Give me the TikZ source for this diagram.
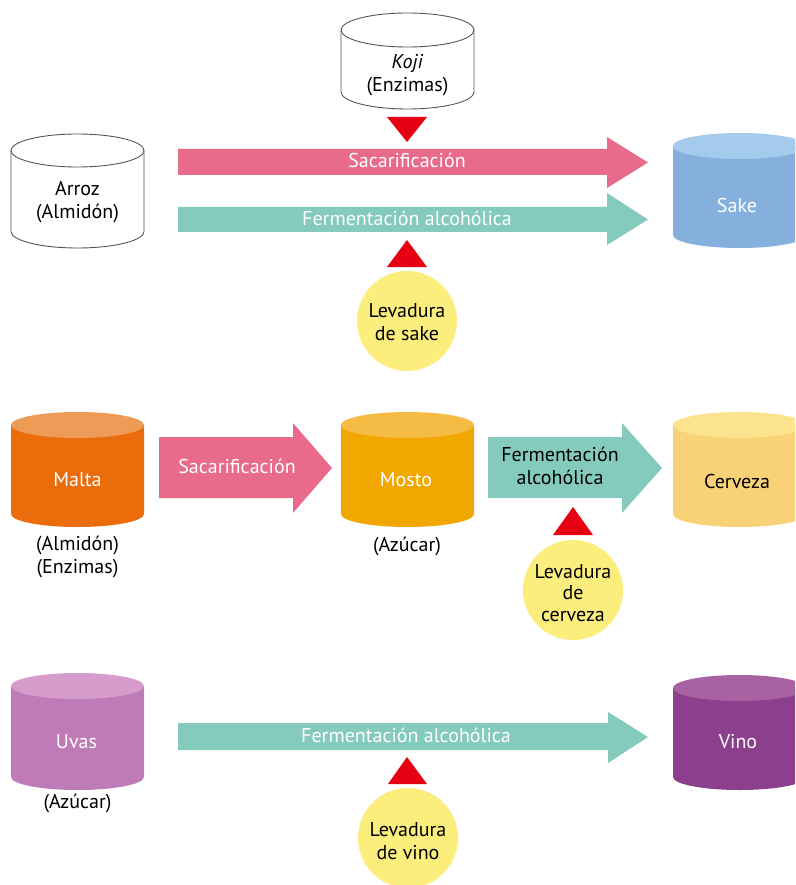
\documentclass[tikz,border=0pt]{standalone}
\usepackage{fontspec}
\setmainfont{PT Sans}
\definecolor{pinkA}{HTML}{E96B8B}
\definecolor{tealA}{HTML}{85CBBD}
\definecolor{redA}{HTML}{E60012}
\definecolor{yelA}{HTML}{FCEE7C}
\definecolor{sakeT}{HTML}{A4CAEC}
\definecolor{sakeB}{HTML}{85B0DD}
\definecolor{maltT}{HTML}{EF9B58}
\definecolor{maltB}{HTML}{EB6C0B}
\definecolor{mostT}{HTML}{F5BC45}
\definecolor{mostB}{HTML}{F2A700}
\definecolor{cervT}{HTML}{FCE48E}
\definecolor{cervB}{HTML}{F9D278}
\definecolor{uvaT}{HTML}{D69CCB}
\definecolor{uvaB}{HTML}{BE7BB7}
\definecolor{vinoT}{HTML}{A862A2}
\definecolor{vinoB}{HTML}{8C3F8D}
\definecolor{lineG}{HTML}{555555}
% #1 cx, #2 ytop, #3 ybot, #4 ry, #5 top colour, #6 body colour
\newcommand\colcyl[6]{%
  \fill[#6] ({#1-66.5},{#2+#4}) -- ({#1-66.5},{#3-#4})
    arc[start angle=180,end angle=360,x radius=66.5pt,y radius=#4pt]
    -- ({#1+66.5},{#2+#4}) -- cycle;
  \fill[#5] (#1,{#2+#4}) ellipse[x radius=66.5pt,y radius=#4pt];
}
\newcommand\whcyl[4]{%
  \draw[lineG,line width=0.9pt,fill=white] ({#1-66.5},{#2+#4}) -- ({#1-66.5},{#3-#4})
    arc[start angle=180,end angle=360,x radius=66.5pt,y radius=#4pt]
    -- ({#1+66.5},{#2+#4});
  \draw[lineG,line width=0.9pt,fill=white] (#1,{#2+#4}) ellipse[x radius=66.5pt,y radius=#4pt];
}
\tikzset{
  lbl/.style={align=center,inner sep=0pt,font=\fontsize{20}{23.5}\selectfont},
  wlbl/.style={lbl,text=white},
  blbl/.style={lbl,text=black},
  yeast/.style={circle,fill=yelA,minimum size=100pt,inner sep=0pt},
  tri/.style={fill=redA},
}
\begin{document}
\begin{tikzpicture}[x=1pt,y=-1pt]
\useasboundingbox (0,0) rectangle (795,885);
\clip (0,0) rectangle (795,885);
\fill[white] (0,0) rectangle (795,885);

% ---------------- Row 1: Sake ----------------
\whcyl{77.5}{134}{248}{16.5}
\node[blbl] (arroz) at (77.5,202) {Arroz\\(Almidón)};
\whcyl{407.5}{13}{109}{17}
\node[blbl] (koji) at (407.5,75) {\textit{Koji}\\(Enzimas)};
\fill[tri] (387,117) -- (427,117) -- (407,142) -- cycle;
\fill[pinkA] (178,149) -- (607,149) -- (607,137) -- (648,162.5) -- (607,188) -- (607,175) -- (178,175) -- cycle;
\node[wlbl] (sac1) at (407,160) {Sacarificación};
\fill[tealA] (178,207) -- (607,207) -- (607,193) -- (648,219.5) -- (607,245) -- (607,232) -- (178,232) -- cycle;
\node[wlbl] (fer1) at (407,218) {Fermentación alcohólica};
\fill[tri] (407,240) -- (427,267) -- (387,267) -- cycle;
\node[yeast] (lev1) at (407,321) {};
\node[blbl] (lev1t) at (407,322) {Levadura\\de sake};
\colcyl{739.5}{133}{248}{13}{sakeT}{sakeB}
\node[wlbl] (sake) at (737,206) {Sake};

% ---------------- Row 2: Cerveza ----------------
\colcyl{77.5}{412}{527}{13}{maltT}{maltB}
\node[wlbl] (malta) at (77.5,480) {Malta};
\node[blbl] (maltasub) at (77.5,557) {(Almidón)\\(Enzimas)};
\fill[pinkA] (159,437) -- (293,437) -- (293,423) -- (332,468) -- (293,513) -- (293,498) -- (159,498) -- cycle;
\node[wlbl] (sac2) at (237,466) {Sacarificación};
\colcyl{407.5}{412}{527}{13}{mostT}{mostB}
\node[wlbl] (mosto) at (406,480) {Mosto};
\node[blbl] (mostosub) at (407,546) {(Azúcar)};
\fill[tealA] (488,437) -- (622,437) -- (622,423) -- (662,468) -- (622,513) -- (622,498) -- (488,498) -- cycle;
\node[blbl] (fer2) at (560,466) {Fermentación\\alcohólica};
\fill[tri] (573,507) -- (593,535) -- (553,535) -- cycle;
\node[yeast] (lev2) at (573,590) {};
\node[blbl,font=\fontsize{20}{21.5}\selectfont] (lev2t) at (573,593) {Levadura\\de\\cerveza};
\colcyl{739.5}{412}{527}{13}{cervT}{cervB}
\node[blbl] (cerveza) at (737,481) {Cerveza};

% ---------------- Row 3: Vino ----------------
\colcyl{77.5}{673}{790}{13}{uvaT}{uvaB}
\node[wlbl] (uvas) at (76.5,742) {Uvas};
\node[blbl] (uvassub) at (77.5,803) {(Azúcar)};
\fill[tealA] (178,723) -- (608,723) -- (608,712) -- (648,737) -- (608,763) -- (608,750) -- (178,750) -- cycle;
\node[wlbl] (fer3) at (406,735) {Fermentación alcohólica};
\fill[tri] (407,757) -- (427,784) -- (388,784) -- cycle;
\node[yeast] (lev3) at (408,838) {};
\node[blbl] (lev3t) at (408,841) {Levadura\\de vino};
\colcyl{739.5}{675}{790}{13}{vinoT}{vinoB}
\node[wlbl] (vino) at (738,742) {Vino};
\end{tikzpicture}
\end{document}
